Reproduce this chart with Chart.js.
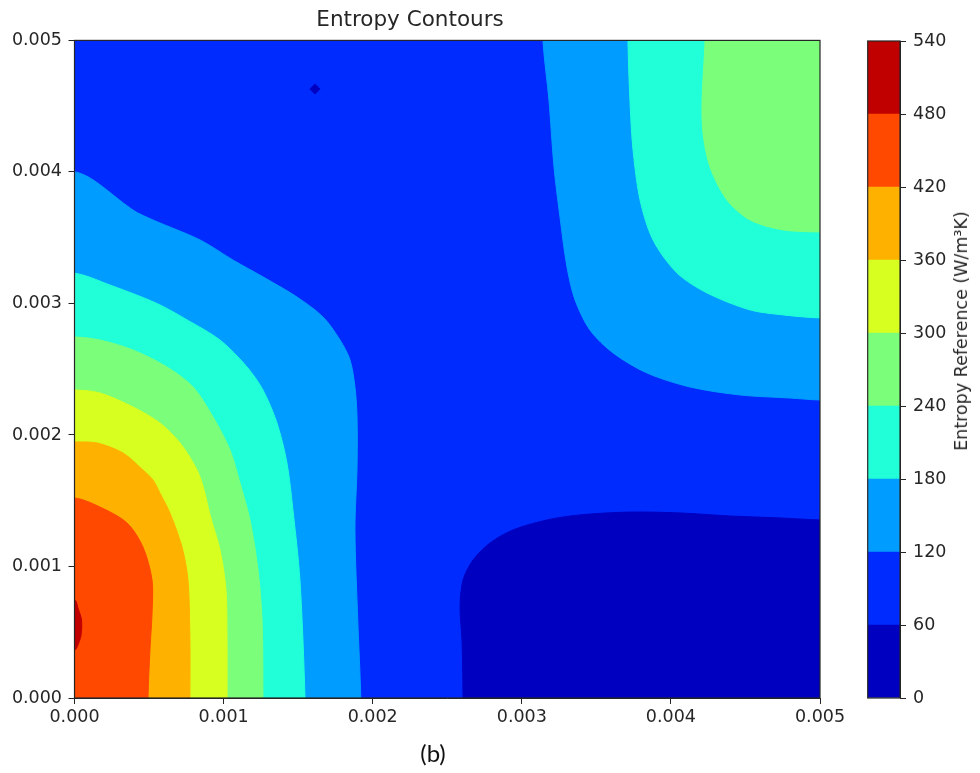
<!DOCTYPE html>
<html>
<head>
<meta charset="utf-8">
<script src="https://cdn.jsdelivr.net/npm/chart.js@4.4.0/dist/chart.umd.min.js"></script>
<style>
  html, body { margin: 0; padding: 0; background: #fff; }
  #wrap { position: relative; width: 980px; height: 773px; overflow: hidden; }
  #main { position: absolute; left: 0; top: 0; }
  #cbar { position: absolute; left: 850px; top: 0; }
  #cbLabel {
    position: absolute; left: 961px; top: 331px;
    transform: translate(-50%, -50%) rotate(-90deg);
    font: 17.5px "DejaVu Sans"; color: #262626; white-space: nowrap;
  }
  #caption {
    position: absolute; left: 433px; top: 752px;
    transform: translate(-50%, -50%);
    font: 24px Lato; color: #111;
  }
</style>
</head>
<body>
<div id="wrap">
  <canvas id="main" width="850" height="773"></canvas>
  <canvas id="cbar" width="130" height="773"></canvas>
  <div id="cbLabel">Entropy Reference (W/m³K)</div>
  <div id="caption">(b)</div>
</div>
<script>
// axes
const xMin = 0, xMax = 0.005, yMin = 0, yMax = 0.005;
const xTicks = [0, 0.001, 0.002, 0.003, 0.004, 0.005];
const yTicks = [0, 0.001, 0.002, 0.003, 0.004, 0.005];

// contour levels and the jet colour of each band
const levels = [0, 60, 120, 180, 240, 300, 360, 420, 480, 540];
const levelColors = ['#0000c0', '#002bff', '#009cff', '#20ffd7', '#7bff7b',
                     '#d7ff20', '#ffb100', '#ff4800', '#c00000'];

// contour lines, [x, y] in m
// lower-left hot spot, from left edge to bottom edge
const ll120 = [[0, 0.00400], [0.000124, 0.00394], [0.000392, 0.00371], [0.000526, 0.003635],
  [0.000842, 0.003483], [0.001063, 0.00333], [0.001264, 0.003202], [0.001492, 0.003049],
  [0.001667, 0.002897], [0.001781, 0.002722], [0.001848, 0.00257], [0.001881, 0.002365],
  [0.001895, 0.002137], [0.001895, 0.001757], [0.001881, 0.001278], [0.00190, 0.00059], [0.00192, 0]];
const ll180 = [[0, 0.00323], [0.000238, 0.00314], [0.000553, 0.00300], [0.000755, 0.002875],
  [0.000976, 0.002722], [0.001157, 0.002517], [0.001264, 0.002342], [0.001358, 0.002091],
  [0.001425, 0.001787], [0.001465, 0.00143], [0.001512, 0.000897], [0.001546, 0]];
const ll240 = [[0, 0.002745], [0.000171, 0.002722], [0.000392, 0.002646], [0.00062, 0.002517],
  [0.000795, 0.002365], [0.000929, 0.002137], [0.001043, 0.001886], [0.00111, 0.001635],
  [0.001177, 0.001354], [0.001231, 0.000973], [0.001258, 0.000593], [0.001264, 0]];
const ll300 = [[0, 0.002342], [0.000171, 0.002319], [0.000392, 0.002213], [0.000573, 0.002091],
  [0.000708, 0.001939], [0.000822, 0.001734], [0.000869, 0.001582], [0.000909, 0.001392],
  [0.000976, 0.001125], [0.001016, 0.000821], [0.001023, 0.000441], [0.001023, 0]];
const ll360 = [[0, 0.001947], [0.000151, 0.001939], [0.000325, 0.001863], [0.000459, 0.001734],
  [0.000526, 0.001658], [0.000573, 0.001559], [0.00064, 0.001407], [0.000721, 0.001148],
  [0.000761, 0.000897], [0.000774, 0.000441], [0.000774, 0]];
const ll420 = [[0, 0.001521], [0.000171, 0.001452], [0.000352, 0.001331], [0.000459, 0.001148],
  [0.00052, 0.000897], [0.00052, 0.000646], [0.000506, 0.000365], [0.000493, 0]];
// tiny peak on the left edge
const ll480 = [[0, 0.000745], [0.000023, 0.000684], [0.000047, 0.000593], [0.000044, 0.000479],
  [0.000023, 0.000403], [0, 0.000365]];
// upper-right, from top edge to right edge
const ur120 = [[0.003142, 0.005], [0.003182, 0.004548], [0.003216, 0.004038], [0.003256, 0.003658],
  [0.003303, 0.003278], [0.003357, 0.003027], [0.003457, 0.002798], [0.003612, 0.002624],
  [0.00384, 0.002471], [0.004128, 0.002365], [0.004464, 0.002304], [0.004799, 0.002281], [0.005, 0.002266]];
const ur180 = [[0.003712, 0.005], [0.003725, 0.004548], [0.003746, 0.004167], [0.003793, 0.003787],
  [0.00388, 0.003483], [0.004041, 0.003232], [0.004242, 0.00308], [0.00453, 0.002951],
  [0.004752, 0.002913], [0.005, 0.00289]];
const ur240 = [[0.004229, 0.005], [0.004209, 0.004548], [0.004215, 0.004297], [0.004262, 0.004038],
  [0.004376, 0.003787], [0.00453, 0.003635], [0.004752, 0.003559], [0.005, 0.003544]];
// lower-right cold region (below 60), from bottom edge to right edge
const br60 = [[0.002606, 0], [0.002599, 0.000441], [0.002586, 0.000692], [0.002606, 0.000897],
  [0.002673, 0.001049], [0.002787, 0.001179], [0.002941, 0.001278], [0.003169, 0.001354],
  [0.00339, 0.001392], [0.003726, 0.001414], [0.004061, 0.001407], [0.004396, 0.001384],
  [0.004732, 0.001369], [0.005, 0.001354]];
// small cold spot near the top
const coldSpot = [[0.001613, 0.004631]];

// close each line outside the plot so the clip hides the joins
const pad = 0.0004;
function leftToBottom(p) {
  const a = p[0], b = p[p.length - 1];
  return [[xMin - pad, a[1]], ...p, [b[0], yMin - pad], [xMin - pad, yMin - pad], [xMin - pad, a[1]]];
}
function leftToLeft(p) {
  const a = p[0], b = p[p.length - 1];
  return [[xMin - pad, a[1]], ...p, [xMin - pad, b[1]], [xMin - pad, a[1]]];
}
function topToRight(p) {
  const a = p[0], b = p[p.length - 1];
  return [[a[0], yMax + pad], ...p, [xMax + pad, b[1]], [xMax + pad, yMax + pad], [a[0], yMax + pad]];
}
function bottomToRight(p) {
  const a = p[0], b = p[p.length - 1];
  return [[a[0], yMin - pad], ...p, [xMax + pad, b[1]], [xMax + pad, yMin - pad], [a[0], yMin - pad]];
}
const fullArea = [[xMin - pad, yMin - pad], [xMax + pad, yMin - pad], [xMax + pad, yMax + pad],
  [xMin - pad, yMax + pad], [xMin - pad, yMin - pad]];

function region(pts, color, tension) {
  return {
    data: pts.map(p => ({x: p[0], y: p[1]})),
    showLine: true,
    fill: 'shape',
    backgroundColor: color,
    borderColor: color,
    borderWidth: 1,
    pointRadius: 0,
    tension: tension
  };
}

// painter's order, bottom first
const layers = [
  region(fullArea, levelColors[1], 0),
  region(bottomToRight(br60), levelColors[0], 0.3),
  region(topToRight(ur120), levelColors[2], 0.3),
  region(topToRight(ur180), levelColors[3], 0.3),
  region(topToRight(ur240), levelColors[4], 0.3),
  region(leftToBottom(ll120), levelColors[2], 0.3),
  region(leftToBottom(ll180), levelColors[3], 0.3),
  region(leftToBottom(ll240), levelColors[4], 0.3),
  region(leftToBottom(ll300), levelColors[5], 0.3),
  region(leftToBottom(ll360), levelColors[6], 0.3),
  region(leftToBottom(ll420), levelColors[7], 0.3),
  region(leftToLeft(ll480), levelColors[8], 0.3),
  {
    data: coldSpot.map(p => ({x: p[0], y: p[1]})),
    pointStyle: 'rectRot', pointRadius: 5.5, borderWidth: 0,
    backgroundColor: levelColors[0], showLine: false
  }
];
// chart.js draws the first dataset on top, so reverse with order
layers.forEach((d, i) => { d.order = layers.length - i; });

const ink = '#262626';
const tickFont = {family: 'DejaVu Sans', size: 17.5};

const frame = {
  id: 'frame',
  afterDraw(chart) {
    const {ctx, chartArea: a} = chart;
    ctx.save();
    ctx.strokeStyle = ink;
    ctx.lineWidth = 1.2;
    ctx.strokeRect(a.left, a.top, a.right - a.left, a.bottom - a.top);
    ctx.restore();
  }
};

new Chart(document.getElementById('main'), {
  type: 'scatter',
  data: {datasets: layers},
  plugins: [frame],
  options: {
    responsive: false,
    animation: false,
    elements: {line: {capBezierPoints: false}},
    layout: {padding: {left: 0, right: 30, top: 0, bottom: 0}},
    plugins: {
      legend: {display: false},
      tooltip: {enabled: false},
      title: {
        display: true,
        text: 'Entropy Contours',
        color: ink,
        font: {family: 'DejaVu Sans', size: 21.5, weight: 'normal'},
        padding: {top: 8, bottom: 6.6}
      }
    },
    scales: {
      x: {
        type: 'linear', min: xMin, max: xMax,
        afterBuildTicks: s => { s.ticks = xTicks.map(v => ({value: v})); },
        afterFit: s => { s.height = 75; },
        ticks: {callback: v => v.toFixed(3), font: tickFont, color: ink, padding: 3, maxRotation: 0, autoSkip: false},
        grid: {drawOnChartArea: false, tickLength: 6, color: ink},
        border: {display: true, color: ink}
      },
      y: {
        type: 'linear', min: yMin, max: yMax,
        afterBuildTicks: s => { s.ticks = yTicks.map(v => ({value: v})); },
        afterFit: s => { s.width = 74.5; },
        ticks: {callback: v => v.toFixed(3), font: tickFont, color: ink, padding: 6.5, autoSkip: false},
        grid: {drawOnChartArea: false, tickLength: 6, color: ink},
        border: {display: true, color: ink}
      }
    }
  }
});

// colour bar: one stacked bar, a segment per band
const bands = levelColors.map((c, i) => ({
  data: [levels[i + 1] - levels[i]],
  backgroundColor: c,
  borderWidth: 0,
  barPercentage: 1,
  categoryPercentage: 1
}));

new Chart(document.getElementById('cbar'), {
  type: 'bar',
  data: {labels: [''], datasets: bands},
  plugins: [frame],
  options: {
    responsive: false,
    animation: false,
    layout: {padding: {left: 17.7, right: 0, top: 41, bottom: 75}},
    plugins: {legend: {display: false}, tooltip: {enabled: false}},
    scales: {
      x: {stacked: true, display: false},
      y: {
        stacked: true, position: 'right',
        min: levels[0], max: levels[levels.length - 1],
        afterBuildTicks: s => { s.ticks = levels.map(v => ({value: v})); },
        afterFit: s => { s.width = 80; },
        ticks: {font: tickFont, color: ink, padding: 7, autoSkip: false},
        grid: {drawOnChartArea: false, tickLength: 6, color: ink},
        border: {display: true, color: ink}
      }
    }
  }
});
</script>
</body>
</html>
